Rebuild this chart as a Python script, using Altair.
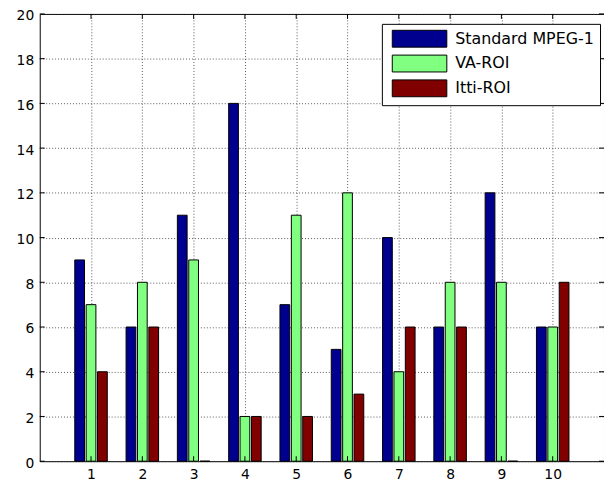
import altair as alt
import pandas as pd

groups = [1, 2, 3, 4, 5, 6, 7, 8, 9, 10]
series = ["Standard MPEG-1", "VA-ROI", "Itti-ROI"]
mpeg = [9, 6, 11, 16, 7, 5, 10, 6, 12, 6]
va_roi = [7, 8, 9, 2, 11, 12, 4, 8, 8, 6]
itti_roi = [4, 6, 0, 2, 2, 3, 6, 6, 0, 8]
colors = ["#00008F", "#80FF80", "#800000"]
offsets = [-0.222, 0.0, 0.222]
y_ticks = list(range(0, 21, 2))
x_ticks = groups

rows = []
for s, vals, off in zip(series, [mpeg, va_roi, itti_roi], offsets):
    for g, v in zip(groups, vals):
        rows.append({"group": g, "series": s, "value": v, "off": off})
df = pd.DataFrame(rows)

W, H = 569, 451
FONT = "DejaVu Sans"

xscale = alt.Scale(domain=[0, 11], nice=False, zero=False)
yscale = alt.Scale(domain=[0, 20], nice=False)

base = alt.Chart(df)

bars = base.mark_bar(stroke="black", strokeWidth=1).transform_calculate(
    x1="datum.group + datum.off - 0.095", x2="datum.group + datum.off + 0.095"
).encode(
    x=alt.X("x1:Q", scale=xscale,
            axis=alt.Axis(values=x_ticks, grid=True, domain=False, ticks=False,
                          labelPadding=6, title=None, format="d")),
    x2="x2:Q",
    y=alt.Y("value:Q", scale=yscale,
            axis=alt.Axis(values=y_ticks, grid=True, domain=False, ticks=False,
                          labelPadding=6, labelOffset=2, title=None)),
    y2=alt.datum(0),
    color=alt.Color("series:N", sort=series,
                    scale=alt.Scale(domain=series, range=colors),
                    legend=alt.Legend(
                        title=None, orient="none", legendX=345, legendY=10,
                        fillColor="white", strokeColor="black", padding=6,
                        symbolType="M-1,-1L5.47,-1L5.47,1L-1,1Z",
                        symbolSize=289, symbolStrokeColor="black",
                        symbolStrokeWidth=1, symbolOpacity=1, symbolOffset=4,
                        labelFont=FONT, labelFontSize=16, labelColor="black",
                        labelOffset=46, rowPadding=3, labelLimit=300,
                    )),
)

ydf = pd.DataFrame({"v": y_ticks})
xdf = pd.DataFrame({"v": x_ticks})

left_ticks = alt.Chart(ydf).mark_rule(color="black").encode(
    y=alt.Y("v:Q", scale=yscale), x=alt.value(0), x2=alt.value(5))
right_ticks = alt.Chart(ydf).mark_rule(color="black").encode(
    y=alt.Y("v:Q", scale=yscale), x=alt.value(W - 5), x2=alt.value(W))
bottom_ticks = alt.Chart(xdf).mark_rule(color="black").encode(
    x=alt.X("v:Q", scale=xscale), y=alt.value(H - 5), y2=alt.value(H))
top_ticks = alt.Chart(xdf).mark_rule(color="black").encode(
    x=alt.X("v:Q", scale=xscale), y=alt.value(0), y2=alt.value(5))

chart = alt.layer(bars, left_ticks, right_ticks, bottom_ticks, top_ticks).properties(
    width=W, height=H,
    background="white",
    autosize=alt.AutoSizeParams(type="none"),
    padding={"left": 32, "top": 4, "right": 0, "bottom": 20},
).configure_view(stroke="black", strokeWidth=1).configure_axis(
    gridColor="#333", gridDash=[1, 2], gridWidth=1, gridOpacity=0.8,
    labelFont=FONT, labelFontSize=14, labelColor="black",
)

chart.save("out.html", embed_options={"renderer": "svg", "actions": False})
